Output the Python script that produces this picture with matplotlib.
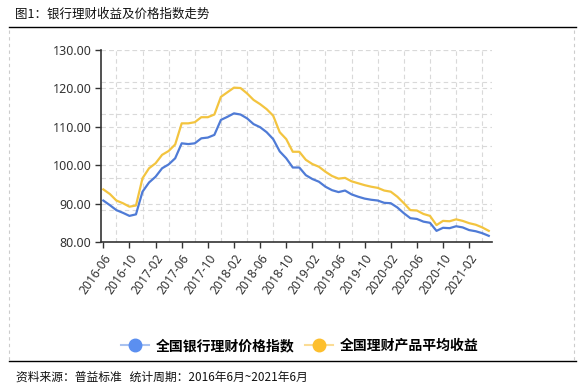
import numpy as np
import pandas as pd
import matplotlib
matplotlib.use("Agg")
import matplotlib.pyplot as plt
from matplotlib.lines import Line2D

plt.rcParams['font.family'] = ['Noto Sans CJK SC', 'DejaVu Sans']

months = pd.date_range('2016-06-01', periods=60, freq='MS').strftime('%Y-%m').tolist()
price_index = [90.8, 89.6, 88.3, 87.6, 86.8, 87.2, 93.1, 95.5, 97.0, 99.2,
               100.2, 101.8, 105.7, 105.5, 105.7, 107.0, 107.2, 107.9, 111.8, 112.6,
               113.5, 113.2, 112.2, 110.7, 109.9, 108.6, 106.8, 103.6, 101.8, 99.4,
               99.4, 97.4, 96.4, 95.7, 94.4, 93.5, 93.0, 93.4, 92.4, 91.8,
               91.3, 91.0, 90.8, 90.2, 90.1, 89.0, 87.5, 86.2, 86.0, 85.3,
               85.0, 82.9, 83.7, 83.6, 84.1, 83.8, 83.1, 82.8, 82.3, 81.6]
avg_yield = [93.7, 92.5, 90.8, 90.1, 89.2, 89.5, 96.6, 99.2, 100.5, 102.7,
             103.7, 105.4, 110.9, 110.9, 111.2, 112.5, 112.5, 113.2, 117.8, 119.0,
             120.2, 120.1, 118.7, 117.0, 115.9, 114.6, 112.9, 108.6, 106.8, 103.5,
             103.5, 101.4, 100.3, 99.6, 98.3, 97.2, 96.5, 96.7, 95.8, 95.3,
             94.8, 94.4, 94.1, 93.4, 93.1, 91.8, 90.1, 88.3, 88.2, 87.3,
             86.8, 84.4, 85.5, 85.4, 85.9, 85.5, 84.9, 84.5, 83.8, 82.9]
series_names = ['全国银行理财价格指数', '全国理财产品平均收益']
yticks = [80, 90, 100, 110, 120, 130]

blue = '#4f7bd6'
yellow = '#f3c43f'
x = np.arange(len(months))

fig = plt.figure(figsize=(5.88, 3.88), dpi=100)
ax = fig.add_axes([0.1718, 0.3763, 0.665, 0.4948])

# second hidden axis only for its split lines (6 equal bands)
ax2 = ax.twinx()
ax2.set_ylim(0, 6)
ax2.set_yticks(range(7))
ax2.grid(axis='y', color='#d9d9d9', linestyle=(0, (4, 3)), linewidth=0.8)
ax2.tick_params(right=False, labelright=False)
for s in ax2.spines.values():
    s.set_visible(False)
ax2.set_zorder(0)
ax.set_zorder(1)
ax.patch.set_visible(False)

ax.plot(x, price_index, color=blue, lw=1.6)
ax.plot(x, avg_yield, color=yellow, lw=1.6)

ax.set_xlim(-0.35, 59.5)
ax.set_ylim(80, 130)
ax.set_yticks(yticks)
ax.set_yticklabels([f'{v:.2f}' for v in yticks], fontsize=9, color='#333333',
                   family=['Noto Sans', 'DejaVu Sans'])
ax.set_xticks(x[::4])
ax.set_xticklabels(months[::4], rotation=55, ha='right', rotation_mode='anchor',
                   fontsize=8.7, color='#333333', family=['Noto Sans', 'DejaVu Sans'])
ax.set_xticks(x[2::4], minor=True)
ax.tick_params(axis='x', which='minor', length=0)
ax.tick_params(axis='both', which='major', length=4, width=1, color='#333333', pad=3)
ax.grid(axis='y', color='#d9d9d9', linestyle=(0, (4, 3)), linewidth=0.8)
ax.grid(axis='x', which='minor', color='#d9d9d9', linestyle=(0, (4, 3)), linewidth=0.8)
ax.spines['top'].set_visible(False)
ax.spines['right'].set_visible(False)
for s in ['left', 'bottom']:
    ax.spines[s].set_color('#333333')
    ax.spines[s].set_linewidth(1.2)

handles = [Line2D([], [], color='#a9c2f0', lw=1.5, marker='o', markersize=9,
                  markerfacecolor='#5b8ff0', markeredgecolor='#5b8ff0'),
           Line2D([], [], color='#fbdc95', lw=1.5, marker='o', markersize=9,
                  markerfacecolor='#fdbf2d', markeredgecolor='#fdbf2d')]
fig.legend(handles, series_names, loc='center', bbox_to_anchor=(0.51, 0.108),
           ncol=2, frameon=False, handlelength=2.0, columnspacing=0.8, handletextpad=0.5,
           prop={'size': 10, 'weight': 'bold'})

# title, rules and dashed frame
fig.text(0.026, 0.963, '图1：银行理财收益及价格指数走势', fontsize=9, va='center', color='#111111')
fig.add_artist(Line2D([0.016, 0.98], [0.931, 0.931], color='black', lw=1.0))
fig.add_artist(Line2D([0.016, 0.98], [0.069, 0.069], color='black', lw=1.0))
fig.add_artist(Line2D([0.016, 0.016], [0.072, 0.925], color='#cccccc', lw=0.8, linestyle=(0, (3, 3))))
fig.add_artist(Line2D([0.976, 0.976], [0.072, 0.925], color='#cccccc', lw=0.8, linestyle=(0, (3, 3))))
fig.text(0.028, 0.027, '资料来源：普益标准   统计周期：2016年6月~2021年6月', fontsize=8.5,
         va='center', color='#111111')

fig.savefig('out.png', dpi=100)
